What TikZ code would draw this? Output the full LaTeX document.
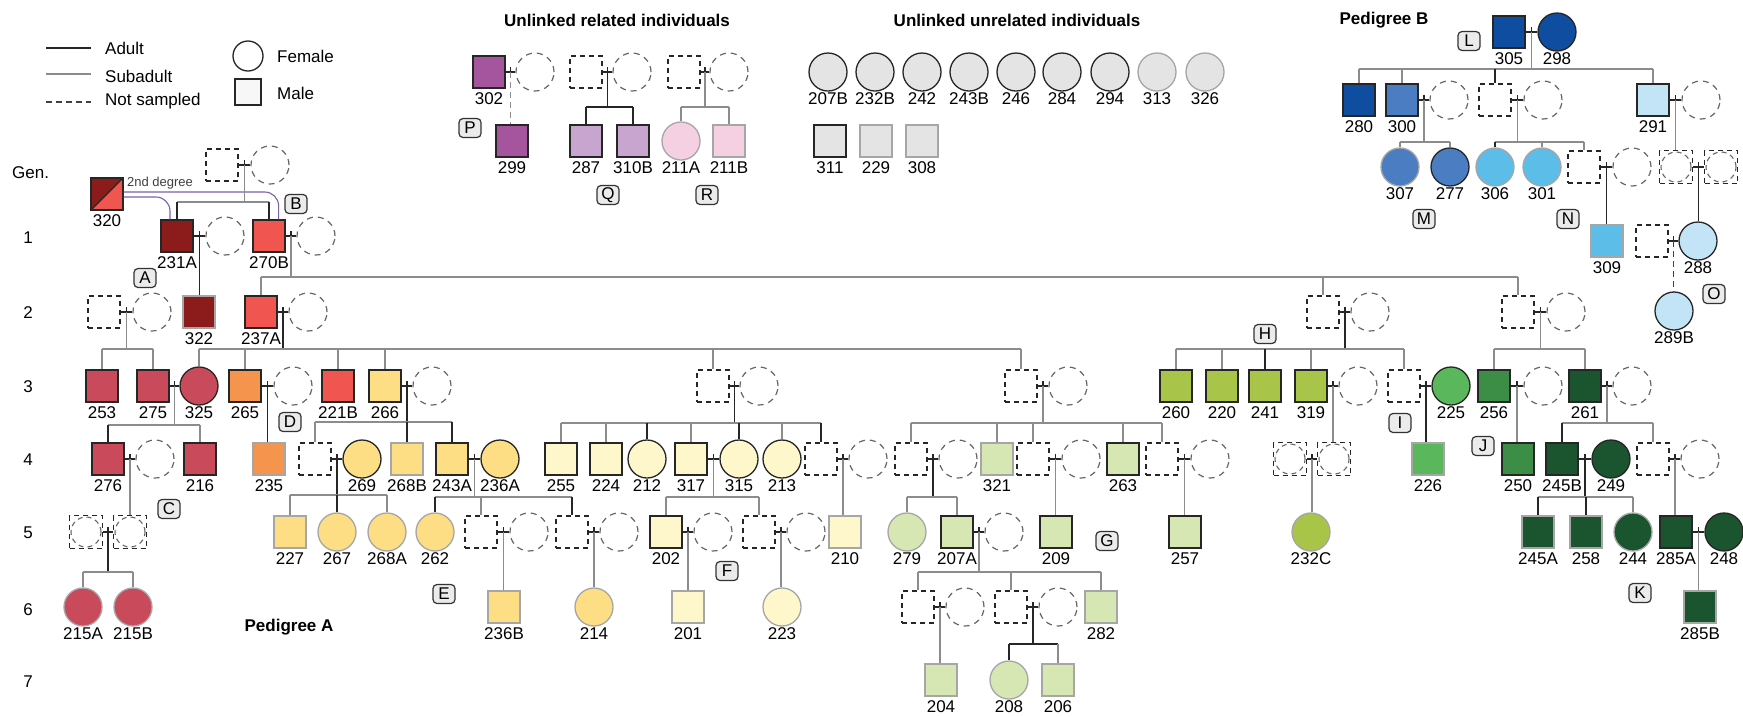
\documentclass[tikz,border=0pt]{standalone}
\usepackage{fontspec}
\setmainfont{Liberation Sans}
\usetikzlibrary{calc}

\definecolor{dred}{HTML}{8C1B1C}
\definecolor{salm}{HTML}{F0554F}
\definecolor{rose}{HTML}{C84A5B}
\definecolor{orng}{HTML}{F5944D}
\definecolor{lorng}{HTML}{FDDE85}
\definecolor{pyel}{HTML}{FEF7CC}
\definecolor{pgrn}{HTML}{D7E7B3}
\definecolor{ygrn}{HTML}{A8C449}
\definecolor{mgrn}{HTML}{5BB75B}
\definecolor{grn}{HTML}{3C8E46}
\definecolor{dgrn}{HTML}{1A552F}
\definecolor{dblu}{HTML}{0E4DA0}
\definecolor{mblu}{HTML}{4A7DC2}
\definecolor{sblu}{HTML}{5BBDE8}
\definecolor{lblu}{HTML}{C3E4F6}
\definecolor{purp}{HTML}{A4559E}
\definecolor{lpurp}{HTML}{C8A5CF}
\definecolor{pnk}{HTML}{F5D0E2}
\definecolor{lgry}{HTML}{E4E4E4}
\definecolor{relc}{HTML}{7B62A8}

\tikzstyle{lbl}=[inner sep=0pt, font=\fontsize{17}{19}\selectfont]
\tikzstyle{ttl}=[inner sep=0pt, font=\bfseries\fontsize{17}{19}\selectfont]
\tikzstyle{letbox}=[draw=black!80, fill=black!8, rounded corners=4pt, line width=1.2pt, minimum width=22pt, minimum height=19pt, inner sep=0pt, font=\fontsize{17}{19}\selectfont]
\tikzstyle{msq}=[rectangle, minimum size=32pt, inner sep=0pt, line width=1.3pt]
\tikzstyle{fci}=[circle, minimum size=38pt, inner sep=0pt, line width=1.3pt]
\tikzstyle{ad}=[draw=black!85]
\tikzstyle{sa}=[draw=black!35]
\tikzstyle{nsq}=[msq, draw=black!85, line width=1.2pt, dash pattern=on 5pt off 4pt]
\tikzstyle{nci}=[fci, draw=black!60, line width=1.2pt, dash pattern=on 6pt off 5pt]
\tikzstyle{unk}=[rectangle, minimum size=33pt, inner sep=0pt, draw=black!85, line width=1.2pt, dash pattern=on 5pt off 4pt,
  path picture={\draw[black!60, line width=1.1pt, dash pattern=on 5pt off 4pt] (path picture bounding box.center) circle (15pt);}]
\tikzstyle{mline}=[black!85, line width=1.2pt]
\tikzstyle{adl}=[black!85, line width=1.2pt]
\tikzstyle{sbl}=[black!45, line width=1.2pt]
\tikzstyle{nsl}=[black!75, line width=1.2pt, dash pattern=on 6pt off 4pt]
\tikzstyle{rel}=[relc, line width=1.1pt, rounded corners=14pt]

\newcommand{\person}[4]{\node[#4] (n#1) at (#2,#3) {}; \node[lbl] (l#1) at (#2,#3+27) {#1};}
\newcommand{\mate}[3]{\draw[mline] (#1) -- coordinate (#3) (#2); \draw[mline] ([yshift=5pt]#3) -- ([yshift=-5pt]#3);}
\newcommand{\kid}[3]{\draw[#3] (#1 -| #2) -- (#2);}

\begin{document}
\begin{tikzpicture}[x=1pt,y=-1pt]
\fill[white] (0,0) rectangle (1743,716);
\useasboundingbox (0,0) rectangle (1743,716);

% legend
\draw[adl] (46,48) -- (91,48);
\node[lbl, anchor=west] (lgAd) at (105,48) {Adult};
\draw[sbl] (46,74) -- (91,74);
\node[lbl, anchor=west] (lgSub) at (105,76) {Subadult};
\draw[nsl] (46,102) -- (91,102);
\node[lbl, anchor=west] (lgNs) at (105,101) {Not sampled};
\node[circle, draw=black!85, line width=1.3pt, minimum size=30pt, inner sep=0pt] (lgF) at (248,56) {};
\node[lbl, anchor=west] (lgFt) at (277,56) {Female};
\node[rectangle, draw=black!85, fill=black!3, line width=1.3pt, minimum size=26pt, inner sep=0pt] (lgM) at (248,92) {};
\node[lbl, anchor=west] (lgMt) at (277,93) {Male};

% generations
\node[lbl, anchor=west] (gen) at (12,173) {Gen.};
\node[lbl] (g1) at (28,238) {1};
\node[lbl] (g2) at (28,313) {2};
\node[lbl] (g3) at (28,387) {3};
\node[lbl] (g4) at (28,460) {4};
\node[lbl] (g5) at (28,533) {5};
\node[lbl] (g6) at (28,610) {6};
\node[lbl] (g7) at (28,682) {7};

% titles
\node[ttl] (ttlRel) at (617,20) {Unlinked related individuals};
\node[ttl] (ttlUnr) at (1017,20) {Unlinked unrelated individuals};
\node[ttl] (ttlB) at (1384,20) {Pedigree B};
\node[ttl] (ttlA) at (289,627) {Pedigree A};

%% pedigree A
\person{320}{107}{194}{msq,ad,fill=salm,path picture={\fill[dred] (path picture bounding box.south west) -- (path picture bounding box.north west) -- (path picture bounding box.north east) -- cycle; \draw[black!85, line width=1.3pt] (path picture bounding box.south west) -- (path picture bounding box.north east);}}
\person{231A}{177}{236}{msq,ad,fill=dred}
\person{270B}{269}{236}{msq,ad,fill=salm}
\person{322}{199}{312}{msq,sa,fill=dred}
\person{237A}{261}{312}{msq,ad,fill=salm}
\person{253}{102}{386}{msq,ad,fill=rose}
\person{275}{153}{386}{msq,ad,fill=rose}
\person{325}{199}{386}{fci,ad,fill=rose}
\person{265}{245}{386}{msq,ad,fill=orng}
\person{221B}{338}{386}{msq,ad,fill=salm}
\person{266}{385}{386}{msq,ad,fill=lorng}
\person{260}{1176}{386}{msq,ad,fill=ygrn}
\person{220}{1222}{386}{msq,ad,fill=ygrn}
\person{241}{1265}{386}{msq,ad,fill=ygrn}
\person{319}{1311}{386}{msq,ad,fill=ygrn}
\person{225}{1451}{386}{fci,ad,fill=mgrn}
\person{256}{1494}{386}{msq,ad,fill=grn}
\person{261}{1585}{386}{msq,ad,fill=dgrn}
\person{276}{108}{459}{msq,ad,fill=rose}
\person{216}{200}{459}{msq,ad,fill=rose}
\person{235}{269}{459}{msq,sa,fill=orng}
\person{269}{362}{459}{fci,ad,fill=lorng}
\person{268B}{407}{459}{msq,sa,fill=lorng}
\person{243A}{452}{459}{msq,ad,fill=lorng}
\person{236A}{500}{459}{fci,ad,fill=lorng}
\person{255}{561}{459}{msq,ad,fill=pyel}
\person{224}{606}{459}{msq,ad,fill=pyel}
\person{212}{647}{459}{fci,ad,fill=pyel}
\person{317}{691}{459}{msq,ad,fill=pyel}
\person{315}{739}{459}{fci,ad,fill=pyel}
\person{213}{782}{459}{fci,ad,fill=pyel}
\person{321}{997}{459}{msq,sa,fill=pgrn}
\person{263}{1123}{459}{msq,ad,fill=pgrn}
\person{226}{1428}{459}{msq,sa,fill=mgrn}
\person{250}{1518}{459}{msq,ad,fill=grn}
\person{245B}{1562}{459}{msq,ad,fill=dgrn}
\person{249}{1611}{459}{fci,ad,fill=dgrn}
\person{227}{290}{532}{msq,sa,fill=lorng}
\person{267}{337}{532}{fci,sa,fill=lorng}
\person{268A}{387}{532}{fci,sa,fill=lorng}
\person{262}{435}{532}{fci,sa,fill=lorng}
\person{202}{666}{532}{msq,ad,fill=pyel}
\person{210}{845}{532}{msq,sa,fill=pyel}
\person{279}{907}{532}{fci,sa,fill=pgrn}
\person{207A}{957}{532}{msq,ad,fill=pgrn}
\person{209}{1056}{532}{msq,ad,fill=pgrn}
\person{257}{1185}{532}{msq,ad,fill=pgrn}
\person{232C}{1311}{532}{fci,sa,fill=ygrn}
\person{245A}{1538}{532}{msq,sa,fill=dgrn}
\person{258}{1586}{532}{msq,sa,fill=dgrn}
\person{244}{1633}{532}{fci,sa,fill=dgrn}
\person{285A}{1676}{532}{msq,ad,fill=dgrn}
\person{248}{1724}{532}{fci,ad,fill=dgrn}
\person{215A}{83}{607}{fci,sa,fill=rose}
\person{215B}{133}{607}{fci,sa,fill=rose}
\person{236B}{504}{607}{msq,sa,fill=lorng}
\person{214}{594}{607}{fci,sa,fill=lorng}
\person{201}{688}{607}{msq,sa,fill=pyel}
\person{223}{782}{607}{fci,sa,fill=pyel}
\person{282}{1101}{607}{msq,sa,fill=pgrn}
\person{285B}{1700}{607}{msq,sa,fill=dgrn}
\person{204}{941}{680}{msq,sa,fill=pgrn}
\person{208}{1009}{680}{fci,sa,fill=pgrn}
\person{206}{1058}{680}{msq,sa,fill=pgrn}

% not sampled, pedigree A
\node[nsq] (q0) at (222,165) {};
\node[nci] (c0) at (270,165) {};
\node[nci] (c231) at (225,236) {};
\node[nci] (c270) at (316,236) {};
\node[nsq] (q2a) at (104,312) {};
\node[nci] (c2a) at (152,312) {};
\node[nci] (c237) at (308,312) {};
\node[nsq] (q2b) at (1323,312) {};
\node[nci] (c2b) at (1370,312) {};
\node[nsq] (q2c) at (1518,312) {};
\node[nci] (c2c) at (1566,312) {};
\node[nci] (c265) at (293,386) {};
\node[nci] (c266) at (432,386) {};
\node[nsq] (q3a) at (713,386) {};
\node[nci] (c3a) at (759,386) {};
\node[nsq] (q3b) at (1021,386) {};
\node[nci] (c3b) at (1068,386) {};
\node[nci] (c319) at (1358,386) {};
\node[nsq] (q3c) at (1404,386) {};
\node[nci] (c256) at (1543,386) {};
\node[nci] (c261) at (1632,386) {};
\node[nci] (c276) at (155,459) {};
\node[nsq] (q4a) at (315,459) {};
\node[nsq] (q4b) at (821,459) {};
\node[nci] (c4b) at (868,459) {};
\node[nsq] (q4c) at (911,459) {};
\node[nci] (c4c) at (958,459) {};
\node[nsq] (q4d) at (1033,459) {};
\node[nci] (c4d) at (1081,459) {};
\node[nsq] (q4e) at (1162,459) {};
\node[nci] (c4e) at (1210,459) {};
\node[unk] (k4b) at (1290,459) {};
\node[unk] (k4a) at (1334,459) {};
\node[nsq] (q4f) at (1653,459) {};
\node[nci] (c4f) at (1700,459) {};
\node[unk] (k5a) at (86,532) {};
\node[unk] (k5b) at (130,532) {};
\node[nsq] (q5a) at (481,532) {};
\node[nci] (c5a) at (529,532) {};
\node[nsq] (q5b) at (572,532) {};
\node[nci] (c5b) at (619,532) {};
\node[nci] (c202) at (713,532) {};
\node[nsq] (q5c) at (759,532) {};
\node[nci] (c5c) at (806,532) {};
\node[nci] (c207) at (1004,532) {};
\node[nsq] (q6a) at (918,607) {};
\node[nci] (c6a) at (965,607) {};
\node[nsq] (q6b) at (1011,607) {};
\node[nci] (c6b) at (1058,607) {};

% 2nd degree relation of 320
\draw[rel] ([yshift=2pt]n320.east) -| ([xshift=-7pt]n270B.north east);
\draw[rel] ([yshift=-3pt]n320.east) -| ([xshift=-7pt]n231A.north);
\node[inner sep=0pt, text=black!75, font=\fontsize{13}{15}\selectfont] (deg2) at (160,183) {2nd degree};

% families, pedigree A
\mate{q0}{c0}{m0}
\coordinate (s0) at (0,202);
\draw[sbl] (m0) -- (m0 |- s0);
\draw[sbl] (s0 -| n231A) -- (s0 -| n270B);
\kid{s0}{n231A}{adl} \kid{s0}{n270B}{adl}

\mate{n231A}{c231}{m231}
\draw[adl] (m231) -- (m231 |- n322.north);

\mate{n270B}{c270}{m270}
\coordinate (s270) at (0,277);
\draw[sbl] (m270) -- (m270 |- s270);
\draw[sbl] (s270 -| n237A) -- (s270 -| q2c);
\kid{s270}{n237A}{sbl} \kid{s270}{q2b}{sbl} \kid{s270}{q2c}{sbl}

\mate{q2a}{c2a}{m2a}
\coordinate (s2a) at (0,349);
\draw[sbl] (m2a) -- (m2a |- s2a);
\draw[sbl] (s2a -| n253) -- (s2a -| n275);
\kid{s2a}{n253}{sbl} \kid{s2a}{n275}{sbl}

\mate{n237A}{c237}{m237}
\coordinate (s237) at (0,349);
\draw[adl] (m237) -- (m237 |- s237);
\draw[sbl] (s237 -| n325) -- (s237 -| q3b);
\kid{s237}{n325}{sbl} \kid{s237}{n265}{sbl} \kid{s237}{n221B}{sbl}
\kid{s237}{n266}{sbl} \kid{s237}{q3a}{sbl} \kid{s237}{q3b}{sbl}

\mate{q2b}{c2b}{m2b}
\coordinate (s2b) at (0,349);
\draw[adl] (m2b) -- (m2b |- s2b);
\draw[sbl] (s2b -| n260) -- (s2b -| q3c);
\kid{s2b}{n260}{sbl} \kid{s2b}{n220}{sbl} \kid{s2b}{n241}{adl}
\kid{s2b}{n319}{sbl} \kid{s2b}{q3c}{sbl}

\mate{q2c}{c2c}{m2c}
\coordinate (s2c) at (0,349);
\draw[sbl] (m2c) -- (m2c |- s2c);
\draw[sbl] (s2c -| n256) -- (s2c -| n261);
\kid{s2c}{n256}{sbl} \kid{s2c}{n261}{sbl}

\mate{n275}{n325}{m275}
\coordinate (s275) at (0,425);
\draw[sbl] (m275) -- (m275 |- s275);
\draw[sbl] (s275 -| n276) -- (s275 -| n216);
\kid{s275}{n276}{adl} \kid{s275}{n216}{sbl}

\mate{n265}{c265}{m265}
\draw[adl] (m265) -- (m265 |- n235.north);

\mate{n266}{c266}{m266}
\coordinate (s266) at (0,422);
\draw[adl] (m266) -- (m266 |- s266);
\draw[sbl] (s266 -| q4a) -- (s266 -| n243A);
\kid{s266}{q4a}{sbl} \kid{s266}{n268B}{adl} \kid{s266}{n243A}{adl}

\mate{q3a}{c3a}{m3a}
\coordinate (s3a) at (0,423);
\draw[adl] (m3a) -- (m3a |- s3a);
\draw[sbl] (s3a -| n255) -- (s3a -| q4b);
\kid{s3a}{n255}{sbl} \kid{s3a}{n224}{sbl} \kid{s3a}{n212}{adl} \kid{s3a}{n317}{sbl}
\kid{s3a}{n315}{adl} \kid{s3a}{n213}{sbl} \kid{s3a}{q4b}{adl}

\mate{q3b}{c3b}{m3b}
\coordinate (s3b) at (0,423);
\draw[sbl] (m3b) -- (m3b |- s3b);
\draw[sbl] (s3b -| q4c) -- (s3b -| q4e);
\kid{s3b}{q4c}{sbl} \kid{s3b}{n321}{sbl} \kid{s3b}{q4d}{sbl} \kid{s3b}{n263}{sbl} \kid{s3b}{q4e}{sbl}

\mate{n319}{c319}{m319}
\draw[sbl] (m319) -- (m319 |- k4a.north);

\mate{q3c}{n225}{m225}
\draw[adl] (m225) -- (m225 |- n226.north);

\mate{n256}{c256}{m256}
\draw[sbl] (m256) -- (m256 |- n250.north);

\mate{n261}{c261}{m261}
\coordinate (s261) at (0,423);
\draw[sbl] (m261) -- (m261 |- s261);
\draw[sbl] (s261 -| n245B) -- (s261 -| q4f);
\kid{s261}{n245B}{adl} \kid{s261}{q4f}{sbl}

\mate{n276}{c276}{m276}
\draw[sbl] (m276) -- (m276 |- k5b.north);

\mate{q4a}{n269}{m269}
\coordinate (s269) at (0,495);
\draw[adl] (m269) -- (m269 |- s269);
\draw[sbl] (s269 -| n227) -- (s269 -| n268A);
\kid{s269}{n227}{sbl} \kid{s269}{n267}{adl} \kid{s269}{n268A}{sbl}

\mate{n243A}{n236A}{m243}
\coordinate (s243) at (0,497);
\draw[sbl] (m243) -- (m243 |- s243);
\draw[sbl] (s243 -| n262) -- (s243 -| q5b);
\kid{s243}{n262}{adl} \kid{s243}{q5a}{sbl} \kid{s243}{q5b}{adl}

\mate{n317}{n315}{m317}
\coordinate (s317) at (0,497);
\draw[sbl] (m317) -- (m317 |- s317);
\draw[sbl] (s317 -| n202) -- (s317 -| q5c);
\kid{s317}{n202}{sbl} \kid{s317}{q5c}{sbl}

\mate{q4b}{c4b}{m4b}
\draw[sbl] (m4b) -- (m4b |- n210.north);

\mate{q4c}{c4c}{m4c}
\coordinate (s4c) at (0,497);
\draw[adl] (m4c) -- (m4c |- s4c);
\draw[sbl] (s4c -| n279) -- (s4c -| n207A);
\kid{s4c}{n279}{sbl} \kid{s4c}{n207A}{sbl}

\mate{q4d}{c4d}{m4d}
\draw[sbl] (m4d) -- (m4d |- n209.north);

\mate{q4e}{c4e}{m4e}
\draw[sbl] (m4e) -- (m4e |- n257.north);

\mate{k4b}{k4a}{m4k}
\draw[sbl] (m4k) -- (m4k |- n232C.north);

\mate{n245B}{n249}{m245}
\coordinate (s245) at (0,497);
\draw[adl] (m245) -- (m245 |- s245);
\draw[sbl] (s245 -| n245A) -- (s245 -| n244);
\kid{s245}{n245A}{adl} \kid{s245}{n258}{adl} \kid{s245}{n244}{sbl}

\mate{q4f}{c4f}{m4f}
\draw[sbl] (m4f) -- (m4f |- n285A.north);

\mate{k5a}{k5b}{m5k}
\coordinate (s5k) at (0,572);
\draw[adl] (m5k) -- (m5k |- s5k);
\draw[sbl] (s5k -| n215A) -- (s5k -| n215B);
\kid{s5k}{n215A}{sbl} \kid{s5k}{n215B}{sbl}

\mate{q5a}{c5a}{m5a}
\draw[sbl] (m5a) -- (m5a |- n236B.north);

\mate{q5b}{c5b}{m5b}
\draw[sbl] (m5b) -- (m5b |- n214.north);

\mate{n202}{c202}{m202}
\draw[sbl] (m202) -- (m202 |- n201.north);

\mate{q5c}{c5c}{m5c}
\draw[sbl] (m5c) -- (m5c |- n223.north);

\mate{n207A}{c207}{m207}
\coordinate (s207) at (0,572);
\draw[sbl] (m207) -- (m207 |- s207);
\draw[sbl] (s207 -| q6a) -- (s207 -| n282);
\kid{s207}{q6a}{sbl} \kid{s207}{q6b}{sbl} \kid{s207}{n282}{sbl}

\mate{n285A}{n248}{m285}
\draw[sbl] (m285) -- (m285 |- n285B.north);

\mate{q6a}{c6a}{m6a}
\draw[sbl] (m6a) -- (m6a |- n204.north);

\mate{q6b}{c6b}{m6b}
\coordinate (s6b) at (0,644);
\draw[adl] (m6b) -- (m6b |- s6b);
\draw[adl] (s6b -| n208) -- (s6b -| n206);
\kid{s6b}{n208}{adl} \kid{s6b}{n206}{sbl}

%% pedigree B
\person{305}{1509}{32}{msq,ad,fill=dblu}
\person{298}{1557}{32}{fci,ad,fill=dblu}
\person{280}{1359}{100}{msq,ad,fill=dblu}
\person{300}{1402}{100}{msq,ad,fill=mblu}
\person{291}{1653}{100}{msq,ad,fill=lblu}
\person{307}{1400}{167}{fci,sa,fill=mblu}
\person{277}{1450}{167}{fci,ad,fill=mblu}
\person{306}{1495}{167}{fci,sa,fill=sblu}
\person{301}{1542}{167}{fci,sa,fill=sblu}
\person{309}{1607}{241}{msq,sa,fill=sblu}
\person{288}{1698}{241}{fci,ad,fill=lblu}
\person{289B}{1674}{311}{fci,ad,fill=lblu}
\node[nci] (cb1) at (1449,100) {};
\node[nsq] (qb1) at (1495,100) {};
\node[nci] (cb2) at (1543,100) {};
\node[nci] (cb3) at (1701,100) {};
\node[nsq] (qb2) at (1584,167) {};
\node[nci] (cb4) at (1632,167) {};
\node[unk] (kb1) at (1676,167) {};
\node[unk] (kb2) at (1721,167) {};
\node[nsq] (qb3) at (1652,241) {};

\mate{n305}{n298}{m305}
\coordinate (s305) at (0,69);
\draw[sbl] (m305) -- (m305 |- s305);
\draw[sbl] (s305 -| n280) -- (s305 -| n291);
\kid{s305}{n280}{sbl} \kid{s305}{n300}{sbl} \kid{s305}{qb1}{adl} \kid{s305}{n291}{sbl}

\mate{n300}{cb1}{m300}
\coordinate (s300) at (0,142);
\draw[sbl] (m300) -- (m300 |- s300);
\draw[sbl] (s300 -| n307) -- (s300 -| n277);
\kid{s300}{n307}{sbl} \kid{s300}{n277}{sbl}

\mate{qb1}{cb2}{mb1}
\coordinate (sb1) at (0,142);
\draw[sbl] (mb1) -- (mb1 |- sb1);
\draw[sbl] (sb1 -| n306) -- (sb1 -| qb2);
\kid{sb1}{n306}{adl} \kid{sb1}{n301}{sbl} \kid{sb1}{qb2}{sbl}

\mate{n291}{cb3}{m291}
\draw[sbl] (m291) -- (m291 |- kb1.north);

\mate{qb2}{cb4}{mb2}
\draw[adl] (mb2) -- (mb2 |- n309.north);

\mate{kb1}{kb2}{mbk}
\draw[adl] (mbk) -- (mbk |- n288.north);

\mate{qb3}{n288}{m288}
\draw[nsl] (m288) -- (m288 |- n289B.north);

%% unlinked related
\person{302}{489}{72}{msq,ad,fill=purp}
\person{299}{512}{141}{msq,ad,fill=purp}
\person{287}{586}{141}{msq,ad,fill=lpurp}
\person{310B}{633}{141}{msq,ad,fill=lpurp}
\person{211A}{681}{141}{fci,sa,fill=pnk}
\person{211B}{729}{141}{msq,sa,fill=pnk}
\node[nci] (c302) at (535,72) {};
\node[nsq] (qq) at (586,72) {};
\node[nci] (cq) at (632,72) {};
\node[nsq] (qr) at (684,72) {};
\node[nci] (cr) at (729,72) {};

\mate{n302}{c302}{m302}
\draw[nsl, black!45] (m302) -- (m302 |- n299.north);

\mate{qq}{cq}{mq}
\coordinate (sq) at (0,107);
\draw[adl] (mq) -- (mq |- sq);
\draw[adl] (sq -| n287) -- (sq -| n310B);
\kid{sq}{n287}{adl} \kid{sq}{n310B}{adl}

\mate{qr}{cr}{mr}
\coordinate (sr) at (0,107);
\draw[sbl] (mr) -- (mr |- sr);
\draw[sbl] (sr -| n211A) -- (sr -| n211B);
\kid{sr}{n211A}{sbl} \kid{sr}{n211B}{sbl}

%% unlinked unrelated
\person{207B}{828}{72}{fci,ad,fill=lgry}
\person{232B}{875}{72}{fci,ad,fill=lgry}
\person{242}{922}{72}{fci,ad,fill=lgry}
\person{243B}{969}{72}{fci,ad,fill=lgry}
\person{246}{1016}{72}{fci,ad,fill=lgry}
\person{284}{1062}{72}{fci,ad,fill=lgry}
\person{294}{1110}{72}{fci,ad,fill=lgry}
\person{313}{1157}{72}{fci,sa,fill=lgry}
\person{326}{1205}{72}{fci,sa,fill=lgry}
\person{311}{830}{141}{msq,ad,fill=lgry}
\person{229}{876}{141}{msq,sa,fill=lgry}
\person{308}{922}{141}{msq,sa,fill=lgry}

% lineage tags
\node[letbox] (tA) at (145,278) {A};
\node[letbox] (tB) at (296,204) {B};
\node[letbox] (tC) at (169,509) {C};
\node[letbox] (tD) at (290,422) {D};
\node[letbox] (tE) at (444,594) {E};
\node[letbox] (tF) at (727,571) {F};
\node[letbox] (tG) at (1107,541) {G};
\node[letbox] (tH) at (1265,334) {H};
\node[letbox] (tI) at (1400,423) {I};
\node[letbox] (tJ) at (1483,446) {J};
\node[letbox] (tK) at (1640,593) {K};
\node[letbox] (tL) at (1469,41) {L};
\node[letbox] (tM) at (1424,219) {M};
\node[letbox] (tN) at (1568,219) {N};
\node[letbox] (tO) at (1714,294) {O};
\node[letbox] (tP) at (470,128) {P};
\node[letbox] (tQ) at (608,195) {Q};
\node[letbox] (tR) at (707,195) {R};

\end{tikzpicture}
\end{document}
